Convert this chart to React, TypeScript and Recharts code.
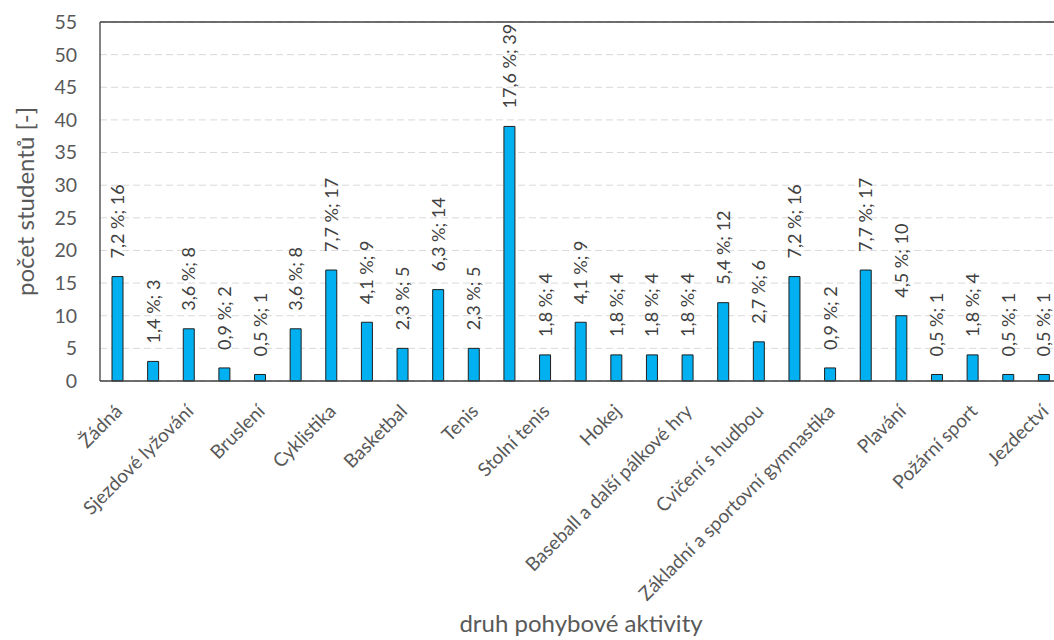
import React from 'react';
import { BarChart, Bar, XAxis, YAxis, CartesianGrid, ReferenceLine, LabelList, Label } from 'recharts';

// Activities (only every other name is printed on the axis)
const categories = [
  'Žádná', 'Běžecké lyžování', 'Sjezdové lyžování', 'Snowboarding', 'Bruslení', 'Atletika',
  'Cyklistika', 'Volejbal', 'Basketbal', 'Florbal', 'Tenis', 'Fotbal', 'Stolní tenis',
  'Házená', 'Hokej', 'Badminton', 'Baseball a další pálkové hry', 'Posilování',
  'Cvičení s hudbou', 'Tanec', 'Základní a sportovní gymnastika', 'Turistika', 'Plavání',
  'Bojové sporty', 'Požární sport', 'Golf', 'Jezdectví',
];

// Number of students per activity
const counts = [16, 3, 8, 2, 1, 8, 17, 9, 5, 14, 5, 39, 4, 9, 4, 4, 4, 12, 6, 16, 2, 17, 10, 1, 4, 1, 1];

// Share of all students [%]
const shares = [7.2, 1.4, 3.6, 0.9, 0.5, 3.6, 7.7, 4.1, 2.3, 6.3, 2.3, 17.6, 1.8, 4.1, 1.8, 1.8, 1.8, 5.4, 2.7, 7.2, 0.9, 7.7, 4.5, 0.5, 1.8, 0.5, 0.5];

const yTicks = [0, 5, 10, 15, 20, 25, 30, 35, 40, 45, 50, 55];

const data = categories.map((name, i) => ({ name, count: counts[i], share: shares[i] }));

const FONT = 'Lato, "Liberation Sans", sans-serif';
const fmt = (v: number) => v.toFixed(1).replace('.', ',');

const CategoryTick = (props: any) => {
  const { x, y, payload } = props;
  return (
    <g transform={`translate(${x - 4},${y + 22})`}>
      <text
        transform="rotate(-45)"
        textAnchor="end"
        dy="0.71em"
        fill="#595959"
        fontSize={19}
        fontFamily={FONT}
      >
        {payload.value}
      </text>
    </g>
  );
};

const ValueLabel = (props: any) => {
  const { x, y, width, value, index } = props;
  const cx = x + width / 2;
  const ty = y - 18;
  return (
    <text
      transform={`translate(${cx},${ty}) rotate(-90)`}
      textAnchor="start"
      dy="0.36em"
      fill="#404040"
      fontSize={18}
      fontFamily={FONT}
    >
      {`${fmt(shares[index])} %; ${value}`}
    </text>
  );
};

export default function App() {
  return (
    <div
      style={{
        position: 'absolute',
        left: 0,
        top: 0,
        width: 1054,
        height: 640,
        overflow: 'hidden',
        background: '#fff',
      }}
    >
      <BarChart
        width={1070}
        height={640}
        data={data}
        margin={{ top: 22, right: 8, bottom: 0, left: 0 }}
        barCategoryGap={0}
      >
        <CartesianGrid vertical={false} stroke="#D9D9D9" strokeDasharray="7 4" />
        <XAxis
          dataKey="name"
          interval={1}
          height={259}
          tickSize={0}
          tickMargin={0}
          tickLine={false}
          axisLine={{ stroke: '#404040', strokeWidth: 1.3 }}
          tick={<CategoryTick />}
        >
          <Label
            value="druh pohybové aktivity"
            position="insideBottom"
            offset={8}
            fill="#595959"
            fontSize={24}
            fontFamily={FONT}
          />
        </XAxis>
        <YAxis
          width={100}
          domain={[0, 55]}
          ticks={yTicks}
          interval={0}
          tickSize={0}
          tickMargin={23}
          tickLine={false}
          axisLine={{ stroke: '#404040', strokeWidth: 1.3 }}
          tick={{ fill: '#595959', fontSize: 19.5, fontFamily: FONT }}
        >
          <Label
            value="počet studentů [-]"
            angle={-90}
            position="center"
            dx={-25}
            fill="#595959"
            fontSize={24}
            fontFamily={FONT}
          />
        </YAxis>
        <ReferenceLine y={55} stroke="#404040" strokeWidth={1.3} />
        <Bar
          dataKey="count"
          fill="#00B0F0"
          stroke="#1F1F1F"
          strokeWidth={1}
          barSize={11}
          isAnimationActive={false}
        >
          <LabelList dataKey="count" content={<ValueLabel />} />
        </Bar>
      </BarChart>
    </div>
  );
}
